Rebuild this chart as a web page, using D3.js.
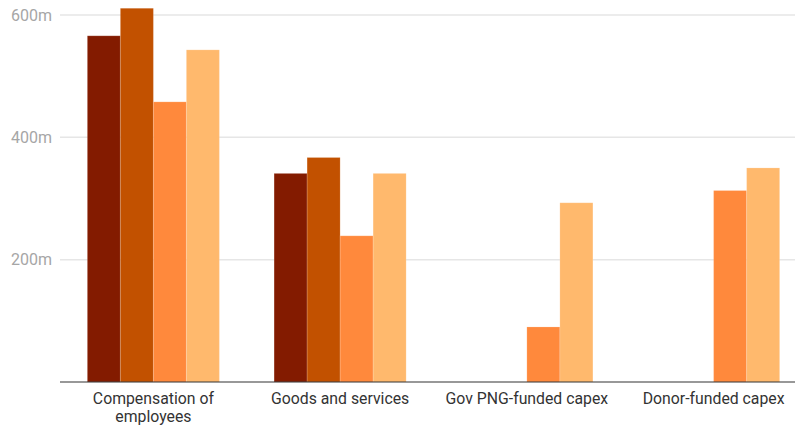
<!DOCTYPE html>
<html>
<head>
<meta charset="utf-8">
<script src="https://cdn.jsdelivr.net/npm/d3@7"></script>
<style>
  body { margin: 0; background: #fff; }
  text { font-family: Roboto, "Noto Sans", sans-serif; }
</style>
</head>
<body>
<svg id="chart" width="795" height="425"></svg>
<script>
const categories = ['Compensation of employees', 'Goods and services', 'Gov PNG-funded capex', 'Donor-funded capex']
const series = ['s1', 's2', 's3', 's4']
const s1 = [566, 341, null, null]
const s2 = [611, 367, null, null]
const s3 = [458, 239, 90, 313]
const s4 = [543, 341, 293, 350]
const yTicks = [200, 400, 600]
const colors = ['#831b00', '#c25100', '#ff893c', '#ffb96d']

const svg = d3.select('#chart')
const baseY = 382

const x = d3.scaleBand()
    .domain(categories)
    .range([60, 807])
    .paddingInner(0.293)
    .paddingOuter(0.1465)

const xs = d3.scaleBand()
    .domain(series)
    .range([0, x.bandwidth()])

const y = d3.scaleLinear()
    .domain([0, 600])
    .range([baseY, 15])

// gridlines
svg.append('g')
    .selectAll('line')
    .data(yTicks)
    .join('line')
    .attr('x1', 60).attr('x2', 795)
    .attr('y1', d => y(d)).attr('y2', d => y(d))
    .attr('stroke', '#e6e6e6')
    .attr('stroke-width', 1.5)

svg.append('g')
    .selectAll('text')
    .data(yTicks)
    .join('text')
    .attr('x', 52)
    .attr('y', d => y(d))
    .attr('dy', '0.35em')
    .attr('text-anchor', 'end')
    .attr('fill', '#a6a6a6')
    .attr('font-size', 16)
    .text(d => d + 'm')

const values = [s1, s2, s3, s4]
const bars = []
categories.forEach((c, i) => {
    series.forEach((s, j) => {
        if (values[j][i] != null) bars.push({c: c, s: s, v: values[j][i], col: colors[j]})
    })
})

svg.append('g')
    .selectAll('rect')
    .data(bars)
    .join('rect')
    .attr('x', d => x(d.c) + xs(d.s))
    .attr('y', d => y(d.v))
    .attr('width', xs.bandwidth())
    .attr('height', d => baseY - y(d.v))
    .attr('fill', d => d.col)
    .attr('stroke', 'rgba(255,255,255,0.15)')
    .attr('stroke-width', 1)

// baseline
svg.append('line')
    .attr('x1', 60).attr('x2', 795)
    .attr('y1', baseY).attr('y2', baseY)
    .attr('stroke', '#333')
    .attr('stroke-width', 1.2)

// category labels, wrapped
const wrapped = {'Compensation of employees': ['Compensation of', 'employees']}
const labels = svg.append('g')
    .selectAll('text')
    .data(categories)
    .join('text')
    .attr('x', d => x(d) + x.bandwidth() / 2)
    .attr('y', 404)
    .attr('text-anchor', 'middle')
    .attr('fill', '#333')
    .attr('font-size', 15.8)

labels.each(function (d) {
    const lines = wrapped[d] || [d]
    d3.select(this).selectAll('tspan')
        .data(lines)
        .join('tspan')
        .attr('x', x(d) + x.bandwidth() / 2)
        .attr('dy', (l, k) => k === 0 ? 0 : 17.5)
        .text(l => l)
})
</script>
</body>
</html>
